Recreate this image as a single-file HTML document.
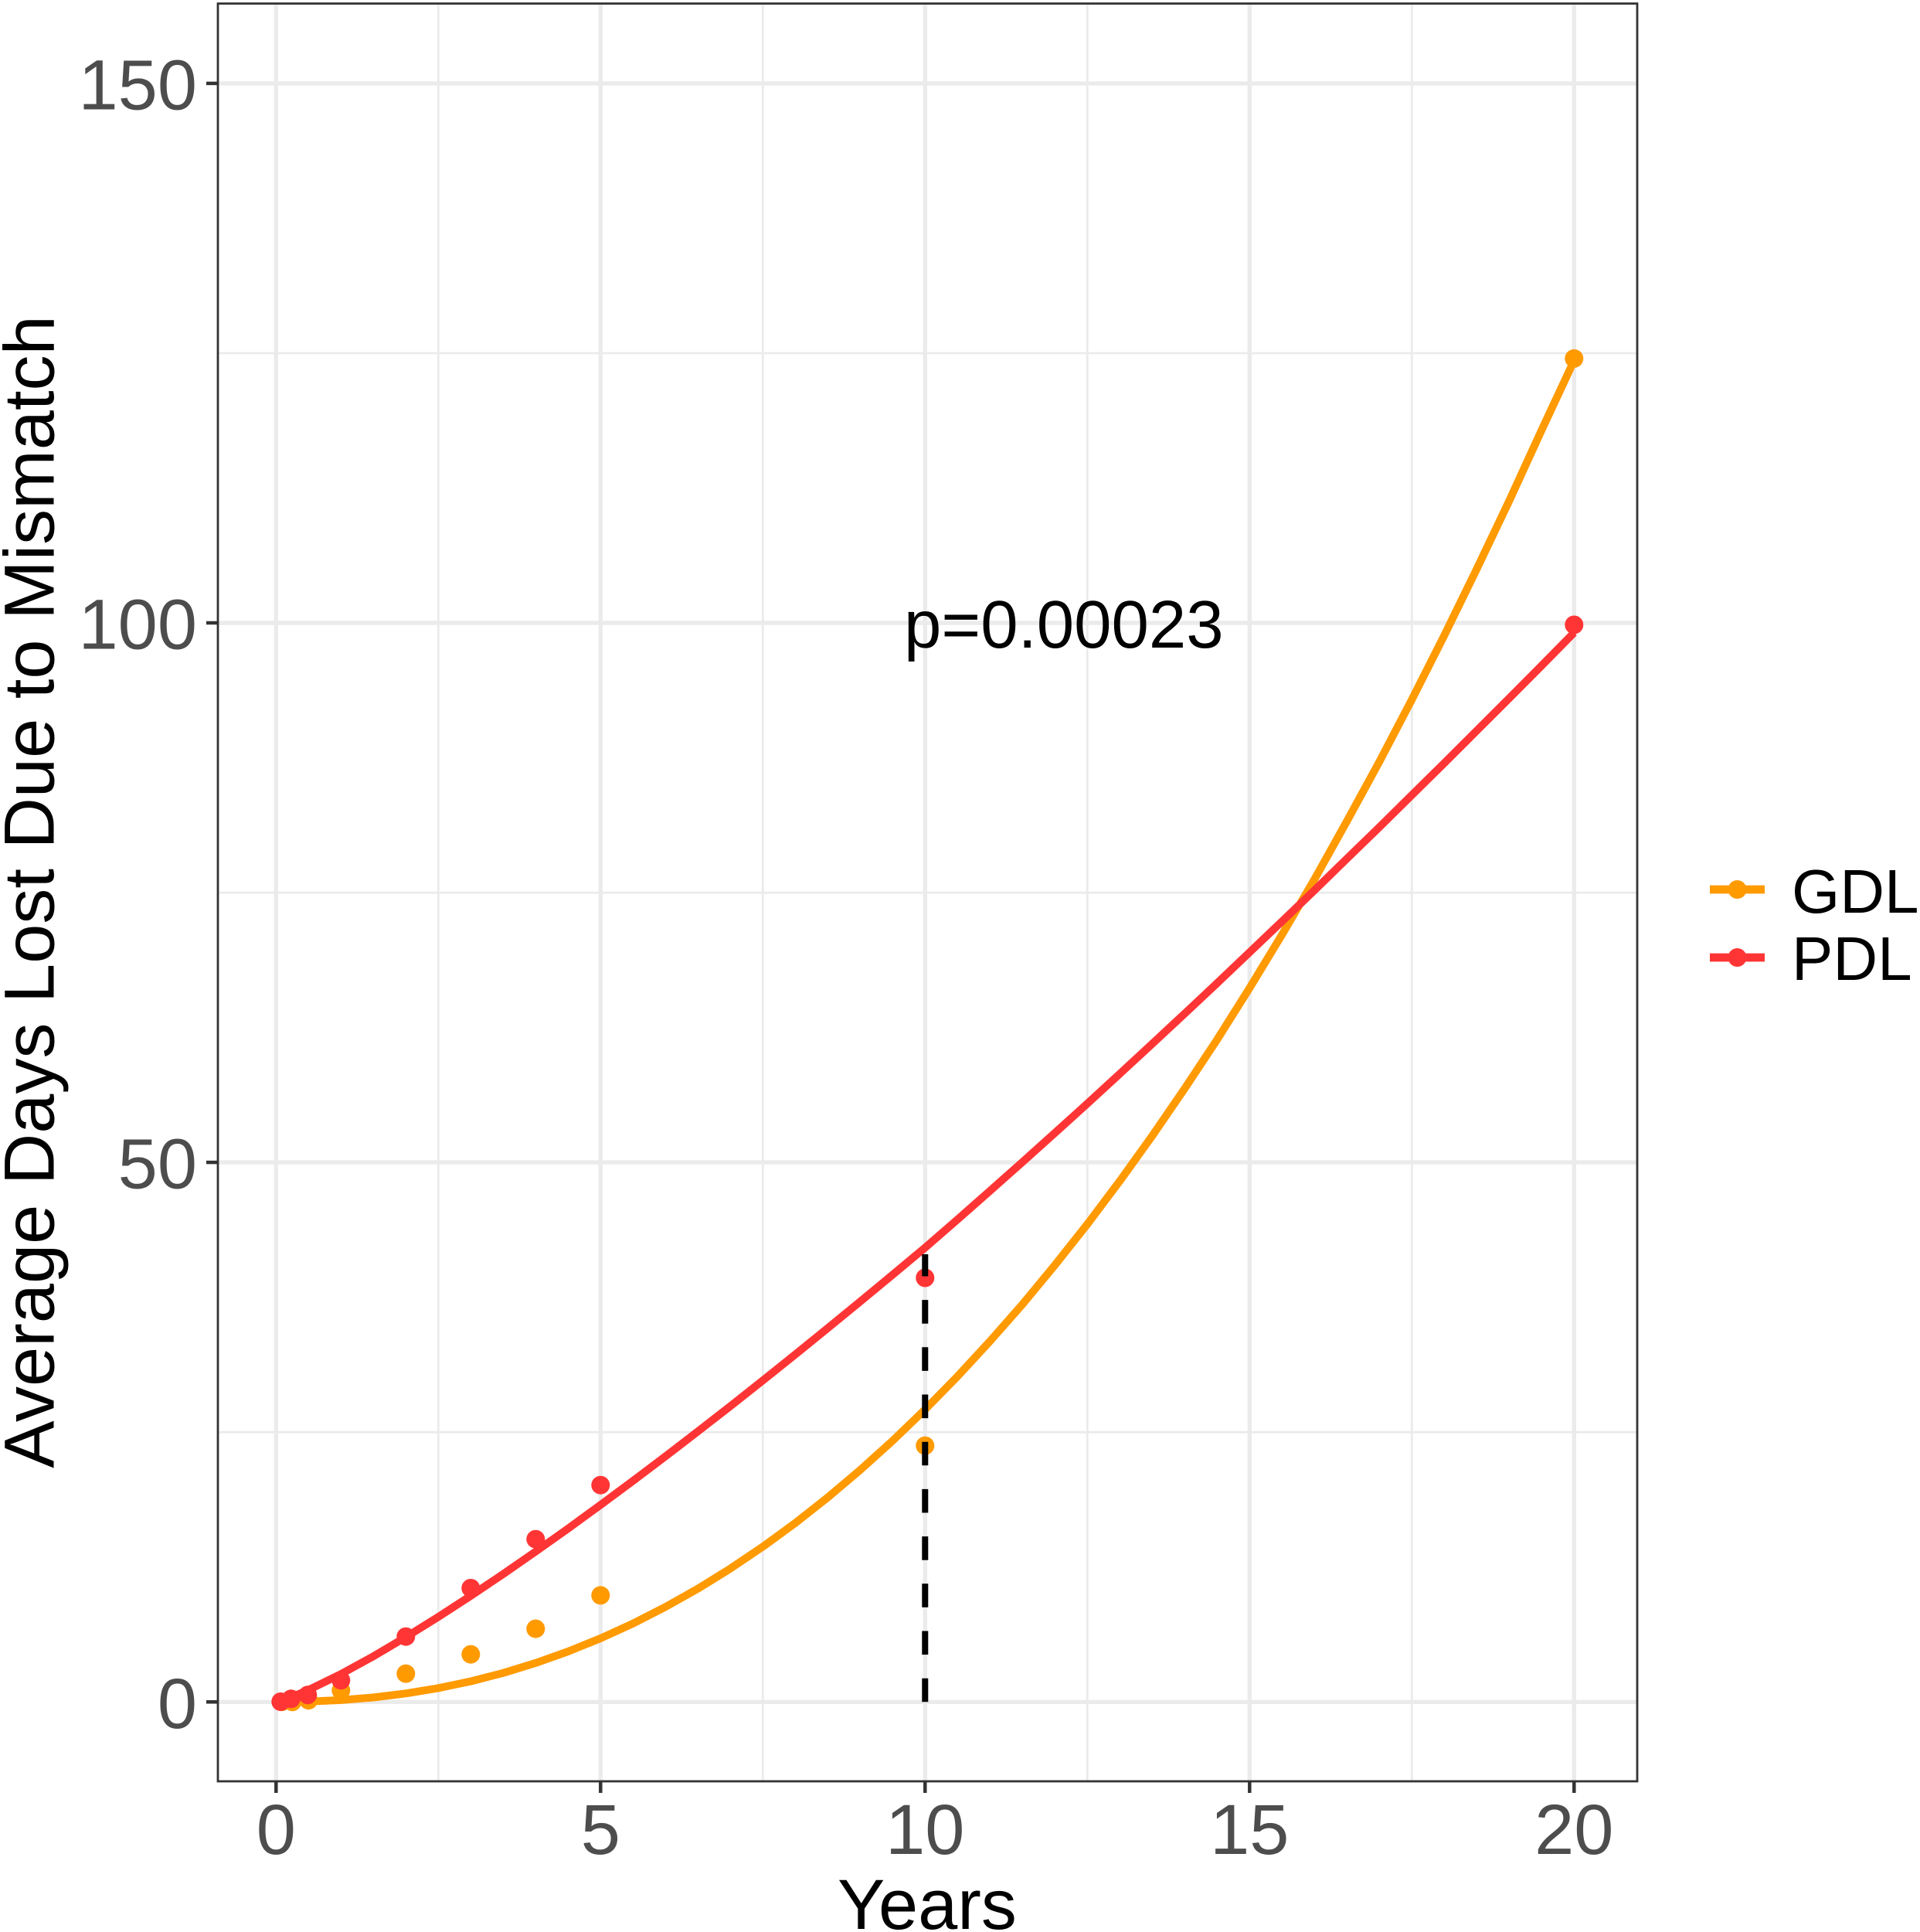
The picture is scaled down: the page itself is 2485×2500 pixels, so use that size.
<!DOCTYPE html>
<html>
<head>
<meta charset="utf-8">
<style>
  html, body { margin: 0; padding: 0; background: #ffffff; }
  svg { display: block; }
  text { font-family: "Liberation Sans", Arial, sans-serif; }
</style>
</head>
<body>
<svg width="2485" height="2500" viewBox="0 0 2485 2500" xmlns="http://www.w3.org/2000/svg">
  <rect x="0" y="0" width="2485" height="2500" fill="#ffffff"/>

  <!-- minor grid -->
  <g stroke="#EBEBEB" stroke-width="2.8" fill="none">
    <line x1="282" y1="1853.2" x2="2119" y2="1853.2"/>
    <line x1="282" y1="1155.1" x2="2119" y2="1155.1"/>
    <line x1="282" y1="457.0" x2="2119" y2="457.0"/>
    <line x1="567.3" y1="4.6" x2="567.3" y2="2305"/>
    <line x1="987.3" y1="4.6" x2="987.3" y2="2305"/>
    <line x1="1407.3" y1="4.6" x2="1407.3" y2="2305"/>
    <line x1="1827.3" y1="4.6" x2="1827.3" y2="2305"/>
  </g>
  <!-- major grid -->
  <g stroke="#EBEBEB" stroke-width="5.4" fill="none">
    <line x1="282" y1="2202.3" x2="2119" y2="2202.3"/>
    <line x1="282" y1="1504.1" x2="2119" y2="1504.1"/>
    <line x1="282" y1="806.0" x2="2119" y2="806.0"/>
    <line x1="282" y1="107.9" x2="2119" y2="107.9"/>
    <line x1="357.3" y1="4.6" x2="357.3" y2="2305"/>
    <line x1="777.3" y1="4.6" x2="777.3" y2="2305"/>
    <line x1="1197.3" y1="4.6" x2="1197.3" y2="2305"/>
    <line x1="1617.3" y1="4.6" x2="1617.3" y2="2305"/>
    <line x1="2037.3" y1="4.6" x2="2037.3" y2="2305"/>
  </g>

  <!-- GDL fitted curve -->
  <polyline fill="none" stroke="#FF9A00" stroke-width="10" stroke-linejoin="round"
    points="364.3,2202.3 378.3,2202.2 399.3,2201.8 441.3,2199.9 483.3,2196.5 525.3,2191.3 567.3,2184.4 609.3,2175.6 651.3,2164.8 693.3,2151.9 735.3,2137.0 777.3,2120.0 819.3,2100.8 861.3,2079.3 903.3,2055.7 945.3,2029.7 987.3,2001.4 1029.3,1970.8 1071.3,1937.7 1113.3,1902.2 1155.3,1864.3 1197.3,1823.9 1239.3,1781.0 1281.3,1735.5 1323.3,1687.8 1365.3,1637.1 1407.3,1584.1 1449.3,1528.3 1491.3,1469.8 1533.3,1408.6 1575.3,1345.2 1617.3,1278.5 1659.3,1209.4 1701.3,1137.8 1743.3,1062.6 1785.3,985.6 1827.3,905.3 1869.3,822.3 1911.3,736.3 1953.3,648.2 1995.3,556.5 2037.3,466.5"/>
  <!-- PDL fitted curve -->
  <polyline fill="none" stroke="#FF3535" stroke-width="10" stroke-linejoin="round"
    points="364.3,2200.5 378.3,2195.6 399.3,2186.8 441.3,2166.2 483.3,2143.2 525.3,2118.4 567.3,2092.3 609.3,2065.0 651.3,2036.8 693.3,2007.7 735.3,1977.9 777.3,1947.3 819.3,1916.2 861.3,1884.5 903.3,1852.2 945.3,1819.6 987.3,1786.3 1029.3,1752.7 1071.3,1718.6 1113.3,1684.3 1155.3,1649.5 1197.3,1614.5 1239.3,1578.0 1281.3,1541.0 1323.3,1503.7 1365.3,1466.0 1407.3,1428.1 1449.3,1389.5 1491.3,1350.7 1533.3,1311.6 1575.3,1272.2 1617.3,1232.3 1659.3,1192.2 1701.3,1152.0 1743.3,1111.1 1785.3,1070.3 1827.3,1028.8 1869.3,987.4 1911.3,945.5 1953.3,903.6 1995.3,861.3 2037.3,818.6"/>

  <!-- GDL points -->
  <g fill="#FF9A00">
    <circle cx="364.3" cy="2202.3" r="12"/>
    <circle cx="378.3" cy="2202.3" r="12"/>
    <circle cx="399.3" cy="2200.2" r="12"/>
    <circle cx="441.3" cy="2187.4" r="12"/>
    <circle cx="525.3" cy="2165.7" r="12"/>
    <circle cx="609.3" cy="2140.7" r="12"/>
    <circle cx="693.3" cy="2107.6" r="12"/>
    <circle cx="777.3" cy="2064.4" r="12"/>
    <circle cx="1197.3" cy="1870.7" r="12"/>
    <circle cx="2037.3" cy="463.9" r="12"/>
  </g>
  <!-- PDL points -->
  <g fill="#FF3535">
    <circle cx="363.3" cy="2202" r="12"/>
    <circle cx="376.7" cy="2198.3" r="12"/>
    <circle cx="398.3" cy="2193.3" r="12"/>
    <circle cx="441.3" cy="2174.3" r="12"/>
    <circle cx="525.3" cy="2117.7" r="12"/>
    <circle cx="609.3" cy="2055" r="12"/>
    <circle cx="693.3" cy="1991.7" r="12"/>
    <circle cx="777.3" cy="1921.7" r="12"/>
    <circle cx="1197.3" cy="1653.5" r="12"/>
    <circle cx="2037.3" cy="808.5" r="12"/>
  </g>

  <!-- dashed segment at 10 years -->
  <line x1="1197.3" y1="2202.3" x2="1197.3" y2="1623" stroke="#000000" stroke-width="8" stroke-dasharray="30.6 30.6"/>

  <!-- p-value annotation -->
  <text x="1170" y="838" font-size="87" fill="#000000">p=0.00023</text>

  <!-- panel border -->
  <rect x="282" y="4.6" width="1837" height="2300.4" fill="none" stroke="#333333" stroke-width="2.8"/>

  <!-- y ticks -->
  <g stroke="#333333" stroke-width="4.5">
    <line x1="267" y1="2202.3" x2="282" y2="2202.3"/>
    <line x1="267" y1="1504.1" x2="282" y2="1504.1"/>
    <line x1="267" y1="806.0" x2="282" y2="806.0"/>
    <line x1="267" y1="107.9" x2="282" y2="107.9"/>
  </g>
  <!-- x ticks -->
  <g stroke="#333333" stroke-width="4.5">
    <line x1="357.3" y1="2305" x2="357.3" y2="2320"/>
    <line x1="777.3" y1="2305" x2="777.3" y2="2320"/>
    <line x1="1197.3" y1="2305" x2="1197.3" y2="2320"/>
    <line x1="1617.3" y1="2305" x2="1617.3" y2="2320"/>
    <line x1="2037.3" y1="2305" x2="2037.3" y2="2320"/>
  </g>

  <!-- y tick labels -->
  <g font-size="92" fill="#4D4D4D" text-anchor="end">
    <text x="255" y="2235.8">0</text>
    <text x="255" y="1537.6">50</text>
    <text x="255" y="839.5">100</text>
    <text x="255" y="141.4">150</text>
  </g>
  <!-- x tick labels -->
  <g font-size="92" fill="#4D4D4D" text-anchor="middle">
    <text x="357.3" y="2399">0</text>
    <text x="777.3" y="2399">5</text>
    <text x="1197.3" y="2399">10</text>
    <text x="1617.3" y="2399">15</text>
    <text x="2037.3" y="2399">20</text>
  </g>

  <!-- axis titles -->
  <text x="1200" y="2496" font-size="92" fill="#000000" text-anchor="middle">Years</text>
  <text transform="translate(69.5,1154) rotate(-90)" font-size="92" fill="#000000" text-anchor="middle">Average Days Lost Due to Mismatch</text>

  <!-- legend -->
  <line x1="2213" y1="1151" x2="2284" y2="1151" stroke="#FF9A00" stroke-width="10.7"/>
  <circle cx="2248.5" cy="1151" r="12" fill="#FF9A00"/>
  <line x1="2213" y1="1239" x2="2284" y2="1239" stroke="#FF3535" stroke-width="10.7"/>
  <circle cx="2248.5" cy="1239" r="12" fill="#FF3535"/>
  <text x="2319" y="1181" font-size="80" fill="#000000">GDL</text>
  <text x="2319" y="1268" font-size="80" fill="#000000">PDL</text>
</svg>
</body>
</html>
